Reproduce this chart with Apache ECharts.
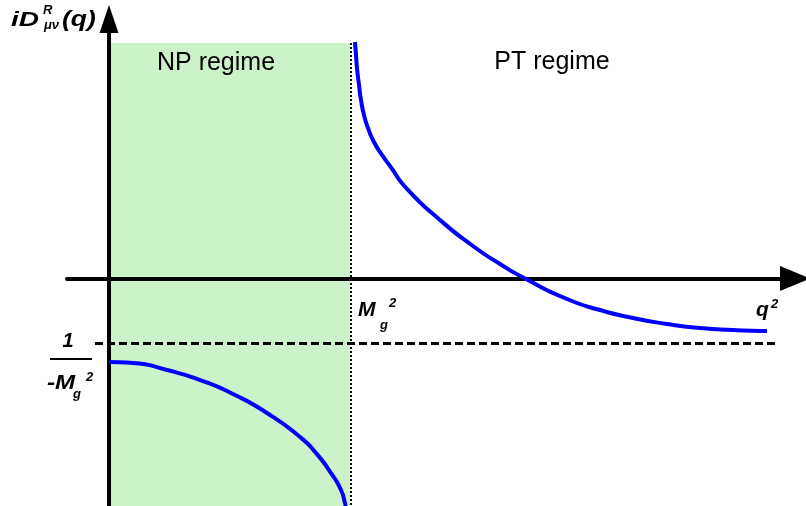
<!DOCTYPE html>
<html>
<head>
<meta charset="utf-8">
<script src="https://cdn.jsdelivr.net/npm/echarts@6/dist/echarts.min.js"></script>
<style>
html,body{margin:0;padding:0;background:#fff;}
#chart{width:806px;height:506px;}
</style>
</head>
<body>
<div id="chart"></div>
<script>
// Units: x in multiples of Mg^2, y in multiples of 1/Mg^2
const npCurve = [
  [0, -1.295], [0.0994, -1.310], [0.2402, -1.419], [0.3768, -1.574],
  [0.5135, -1.791], [0.6542, -2.085], [0.7909, -2.457], [0.8571, -2.705],
  [0.9193, -3.016], [0.9607, -3.279], [0.9772, -3.481], [0.9793, -3.527]
];
const ptCurve = [
  [1.0186, 3.667], [1.0228, 3.465], [1.0269, 3.264], [1.0352, 3.000],
  [1.0435, 2.767], [1.0559, 2.535], [1.0725, 2.333], [1.0973, 2.116],
  [1.1304, 1.915], [1.1636, 1.744], [1.2340, 1.388], [1.3706, 0.907],
  [1.5072, 0.504], [1.6190, 0.225], [1.7226, 0], [1.8965, -0.318],
  [2.0331, -0.488], [2.1698, -0.612], [2.3106, -0.705], [2.4472, -0.767],
  [2.5839, -0.798], [2.7246, -0.814]
];
const mg2 = 1;                 // q^2 = Mg^2
const invLevel = -1;           // -1/Mg^2
const npRegion = [0, mg2];
const regionTop = 3.651;
const dashedSpan = [-0.058, 2.758];
const xLimits = [-0.1739, 2.8406];
const yLimits = [-3.5271, 4.0233];
const labels = { np: 'NP regime', pt: 'PT regime' };

const chart = echarts.init(document.getElementById('chart'));
const FAM = '"Liberation Sans", Arial, sans-serif';
const fontMath = 'italic bold 21px ' + FAM;
const fontSmall = 'italic bold 13px ' + FAM;
function txt(x, y, text, font, align, sx) {
  return { type: 'text', x: x, y: y, z: 10, scaleX: sx || 1,
    style: { text: text, font: font, fill: '#000', align: align || 'left', verticalAlign: 'middle' } };
}
chart.setOption({
  animation: false,
  grid: { left: 67, right: 11, top: 19, bottom: 0 },
  xAxis: {
    type: 'value', min: xLimits[0], max: xLimits[1], z: 3,
    axisLine: { show: true, onZero: true, symbol: ['none', 'triangle'], symbolSize: [25, 30],
      lineStyle: { color: '#000', width: 4 } },
    axisTick: { show: false }, axisLabel: { show: false }, splitLine: { show: false }
  },
  yAxis: {
    type: 'value', min: yLimits[0], max: yLimits[1], z: 3,
    axisLine: { show: true, onZero: true, symbol: ['none', 'triangle'], symbolSize: [19, 28],
      lineStyle: { color: '#000', width: 4 } },
    axisTick: { show: false }, axisLabel: { show: false }, splitLine: { show: false }
  },
  series: [
    {
      type: 'line', data: npCurve, smooth: 0.6, showSymbol: false, symbol: 'none', z: 4,
      lineStyle: { color: '#0000ff', width: 4 },
      markArea: {
        silent: true, z: 1,
        itemStyle: { color: '#ccf2ca' },
        data: [[{ coord: [npRegion[0], regionTop] }, { coord: [npRegion[1], yLimits[0]] }]]
      },
      markLine: {
        silent: true, symbol: ['none', 'none'], label: { show: false },
        data: [
          [{ coord: [dashedSpan[0], invLevel], lineStyle: { type: [8, 4], width: 3, color: '#000' } },
           { coord: [dashedSpan[1], invLevel] }],
          [{ coord: [mg2, regionTop], lineStyle: { type: [2, 2], width: 2, color: '#000' } },
           { coord: [mg2, yLimits[0]] }]
        ]
      }
    },
    {
      type: 'line', data: ptCurve, smooth: 0.6, showSymbol: false, symbol: 'none', z: 4,
      lineStyle: { color: '#0000ff', width: 4 }
    }
  ],
  graphic: [
    txt(216, 63, labels.np, '25px ' + FAM, 'center'),
    txt(552, 62, labels.pt, '25px ' + FAM, 'center'),
    // y-axis label iD^R_{μν}(q)
    txt(11, 20, 'iD', 'italic bold 20px ' + FAM, 'left', 1.4),
    txt(43, 10, 'R', fontSmall),
    txt(44, 25, 'μν', fontSmall),
    txt(62, 20, '(q)', 'italic bold 22px ' + FAM, 'left', 1.2),
    // Mg^2
    txt(358, 310, 'M', fontMath),
    txt(380, 325, 'g', fontSmall),
    txt(389, 303, '2', fontSmall),
    // q^2
    txt(756, 310, 'q', fontMath),
    txt(771, 304, '2', fontSmall),
    // fraction 1 / -Mg^2
    txt(68, 341, '1', 'italic bold 20px ' + FAM, 'center'),
    { type: 'rect', shape: { x: 50, y: 358, width: 42, height: 2 }, style: { fill: '#000' }, z: 10 },
    txt(47, 383, '-M', fontMath, 'left', 1.15),
    txt(73, 394, 'g', fontSmall),
    txt(86, 377, '2', fontSmall)
  ]
});
</script>
</body>
</html>
